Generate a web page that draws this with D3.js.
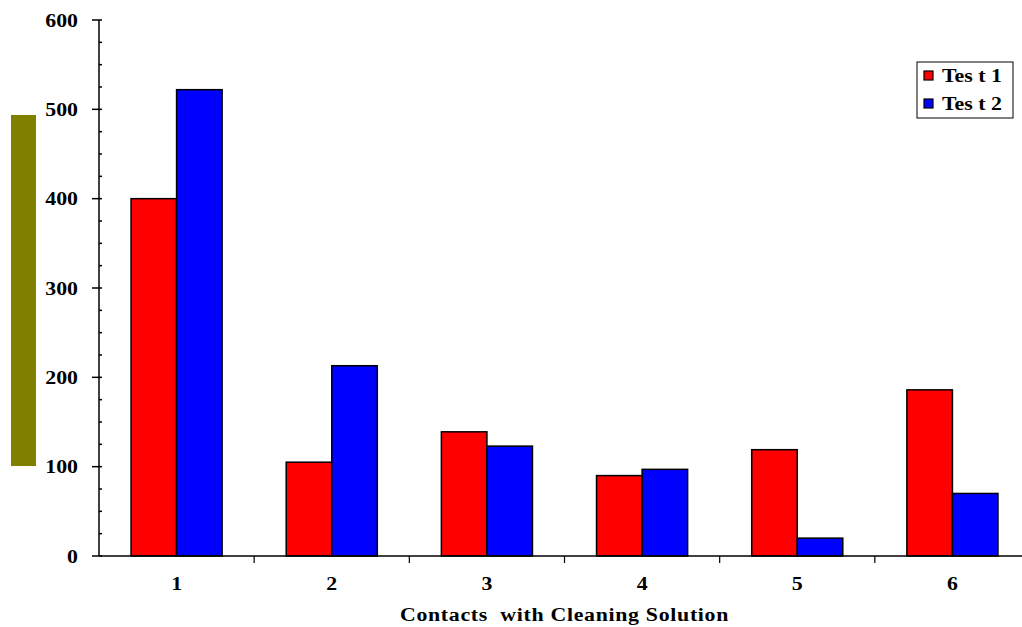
<!DOCTYPE html>
<html><head><meta charset="utf-8">
<script src="https://cdn.jsdelivr.net/npm/d3@7"></script>
<style>body{margin:0;background:#fff;overflow:hidden}svg{display:block}text{font-family:"Liberation Serif","Times New Roman",serif;font-weight:bold;fill:#000}</style>
</head><body><svg id="c" width="1022" height="627"></svg>
<script>
const categories = ["1","2","3","4","5","6"];
const seriesNames = ["Tes t 1","Tes t 2"];
const test1 = [400,105,139,90,119,186];
const test2 = [522,213,123,97,20,70];
const yTicks = [0,100,200,300,400,500,600];
const colors = ["#ff0000","#0000ff"];
const xTitle = "Contacts  with Cleaning Solution";

const svg = d3.select("#c");
const m = {l:99, r:1030, t:20, b:556};
const SX = 1.15;
const x = d3.scaleBand().domain(categories).range([m.l, m.r]).paddingInner(0).paddingOuter(0);
const y = d3.scaleLinear().domain([0,600]).range([m.b, m.t]);

function label(parent, tx, ty, txt, size, anchor){
  return parent.append("text").attr("transform",`translate(${tx},${ty}) scale(${SX},1)`)
    .attr("text-anchor",anchor).style("font-size",size+"px").style("white-space","pre").text(txt);
}

// olive block
svg.append("rect").attr("x",11).attr("y",115).attr("width",25).attr("height",351).attr("fill","#808000");

const groupW = x.bandwidth()*0.587;
const x1 = d3.scaleBand().domain([0,1]).range([0, groupW]);
const data = categories.map((c,i)=>({c, v:[test1[i],test2[i]]}));
const g = svg.append("g");
data.forEach(d=>{
  d.v.forEach((v,s)=>{
    g.append("rect")
      .attr("x", x(d.c) + (x.bandwidth()-groupW)/2 + x1(s))
      .attr("y", y(v))
      .attr("width", x1.bandwidth())
      .attr("height", y(0)-y(v))
      .attr("fill", colors[s]).attr("stroke","#000").attr("stroke-width",1.5);
  });
});

// y axis
const yAxis = svg.append("g").attr("transform",`translate(${m.l},0)`);
yAxis.append("line").attr("x1",0).attr("x2",0).attr("y1",y(600)).attr("y2",y(0)).attr("stroke","#000").attr("stroke-width",1.5);
d3.range(0,601,25).forEach(v=>{
  const major = v%100===0;
  yAxis.append("line").attr("x1",major?-7:0).attr("x2",3).attr("y1",y(v)).attr("y2",y(v)).attr("stroke","#000").attr("stroke-width",1.5);
});
yTicks.forEach(d=>label(yAxis,-21,y(d)+6.5,String(d),19,"end"));

// x axis
const xAxis = svg.append("g").attr("transform",`translate(0,${m.b})`);
xAxis.append("line").attr("x1",m.l).attr("x2",1022).attr("y1",0).attr("y2",0).attr("stroke","#000").attr("stroke-width",1.5);
categories.forEach((c,i)=>{
  const xb = x(c);
  if(i>0) xAxis.append("line").attr("x1",xb).attr("x2",xb).attr("y1",0).attr("y2",7).attr("stroke","#000").attr("stroke-width",1.2);
  label(xAxis, xb+x.bandwidth()/2, 34, c, 19, "middle");
});
label(svg,(m.l+m.r)/2,621,xTitle,19,"middle").style("letter-spacing","0.6px");

// legend
const lg = svg.append("g");
lg.append("rect").attr("x",917).attr("y",62).attr("width",96).attr("height",56).attr("fill","#fff").attr("stroke","#000").attr("stroke-width",1);
seriesNames.forEach((n,i)=>{
  const yy = 75.5 + i*28;
  lg.append("rect").attr("x",924).attr("y",yy-4.5).attr("width",9).attr("height",9).attr("fill",colors[i]).attr("stroke","#000").attr("stroke-width",1.2);
  label(lg,942,yy+6.5,n,19,"start");
});
</script></body></html>
